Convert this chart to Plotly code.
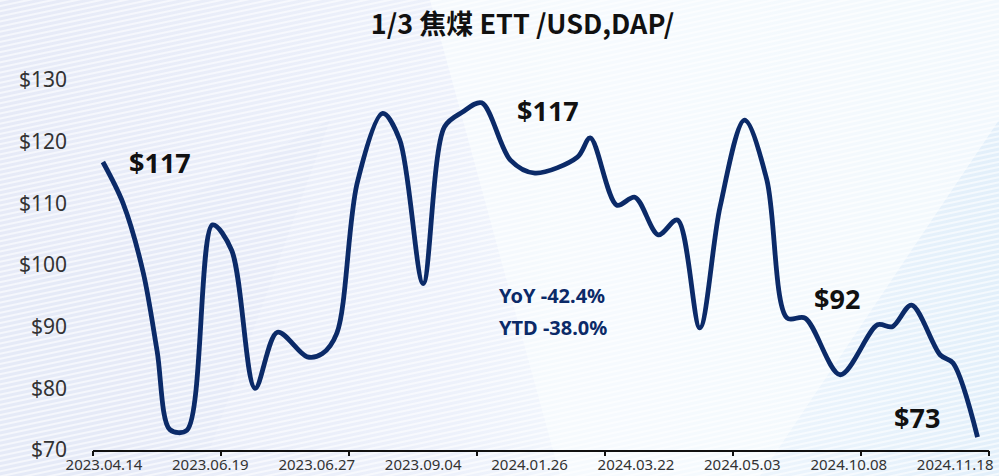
import base64
import plotly.graph_objects as go

# ---- data ----
x_pos = [-0.01, 0.18, 0.37, 0.50, 0.62, 0.78, 1.02, 1.20, 1.42, 1.63, 1.91, 2.05, 2.19, 2.38,
         2.62, 2.78, 3.00, 3.20, 3.37, 3.55, 3.82, 4.05, 4.45, 4.57, 4.82, 4.99, 5.21, 5.39,
         5.60, 5.79, 6.02, 6.23, 6.42, 6.59, 6.92, 7.27, 7.41, 7.59, 7.86, 7.98, 8.21]
price = [116.7, 110.0, 98.7, 86.0, 73.3, 73.2, 106.5, 102.4, 80.0, 89.1, 85.1, 85.6, 89.0, 113.3,
         124.6, 120.3, 97.0, 122.4, 124.8, 126.3, 117.0, 114.9, 117.5, 120.6, 109.7, 111.0, 104.9, 107.3,
         89.8, 109.4, 123.5, 113.8, 91.4, 91.4, 82.2, 90.3, 90.0, 93.5, 85.4, 84.1, 72.1]
date_labels = ["2023.04.14", "2023.06.19", "2023.06.27", "2023.09.04", "2024.01.26",
               "2024.03.22", "2024.05.03", "2024.10.08", "2024.11.18"]
y_ticks = [70, 80, 90, 100, 110, 120, 130]
callouts = ["$117", "$117", "$92", "$73"]
stats = ["YoY -42.4%", "YTD -38.0%"]

TITLE = "1/3 焦煤 ETT /USD,DAP/"
NAVY = "#0b2a68"

# ---- background picture (svg) ----
svg = """<svg xmlns='http://www.w3.org/2000/svg' width='999' height='476' viewBox='0 0 999 476'>
<defs>
<linearGradient id='g' x1='0' y1='0' x2='1' y2='0'>
<stop offset='0' stop-color='#e6eaf7'/>
<stop offset='0.45' stop-color='#edf1fb'/>
<stop offset='0.62' stop-color='#f3f8fd'/>
<stop offset='0.85' stop-color='#e9f3fc'/>
<stop offset='1' stop-color='#e2effa'/>
</linearGradient>
<pattern id='p' width='8' height='5' patternUnits='userSpaceOnUse' patternTransform='rotate(-12)'>
<rect width='8' height='2' fill='#ffffff' opacity='0.6'/>
</pattern>
</defs>
<rect width='999' height='476' fill='url(#g)'/>
<polygon points='430,0 999,0 999,120 760,476 560,476' fill='#f7fbfe' opacity='0.75'/>
<polygon points='0,476 0,300 330,120 200,476' fill='#e4e9f6' opacity='0.6'/>
<rect width='999' height='476' fill='url(#p)'/>
</svg>"""
bg_src = "data:image/svg+xml;base64," + base64.b64encode(svg.encode("utf-8")).decode("ascii")

# geometry
W, H = 999, 476
ML, MR, MT, MB = 93, 10, 80, 26
pw, ph = W - ML - MR, H - MT - MB

x_lo, x_hi = -0.103, 8.318
label_pos = list(range(len(date_labels)))
tick_pos = [x_lo + k * (x_hi - x_lo) / 7 for k in range(8)]

fig = go.Figure()
fig.add_trace(go.Scatter(
    x=x_pos, y=price, mode="lines",
    line=dict(color=NAVY, width=4.8, shape="spline", smoothing=0.9),
    hoverinfo="skip", showlegend=False,
))

ann = []
call_xy = [(0.53, 116.7), (4.17, 125.1), (6.89, 94.6), (7.64, 75.2)]
for txt, (ax_, ay_) in zip(callouts, call_xy):
    ann.append(dict(x=ax_, y=ay_, xref="x", yref="y", text="<b>%s</b>" % txt, showarrow=False,
                    font=dict(family="Noto Sans, Lato, sans-serif", size=27, color="#111111")))
for txt, ay_ in zip(stats, [95.1, 89.8]):
    ann.append(dict(x=3.69, y=ay_, xref="x", yref="y", text="<b>%s</b>" % txt, showarrow=False,
                    xanchor="left",
                    font=dict(family="Noto Sans, Lato, sans-serif", size=20, color=NAVY)))

fig.update_layout(
    width=W, height=H,
    margin=dict(l=ML, r=MR, t=MT, b=MB, autoexpand=False),
    paper_bgcolor="#eef3fb", plot_bgcolor="rgba(0,0,0,0)",
    title=dict(text="<b>%s</b>" % TITLE, x=0.523, xanchor="center", y=1 - 25 / H, yanchor="middle",
               font=dict(family="Noto Sans CJK SC, Noto Sans, sans-serif", size=27, color="#111111")),
    xaxis=dict(range=[x_lo, x_hi], tickvals=label_pos, ticktext=date_labels, ticks="",
               showgrid=False, zeroline=False, showline=True, linecolor="#111111", linewidth=2,
               automargin=False, fixedrange=True,
               tickfont=dict(family="Noto Sans, sans-serif", size=15, color="#333333")),
    xaxis2=dict(range=[x_lo, x_hi], overlaying="x", anchor="y", side="bottom",
                tickvals=tick_pos, showticklabels=False, ticks="outside", ticklen=5,
                tickwidth=2, tickcolor="#111111", showgrid=False, zeroline=False, showline=False,
                automargin=False, fixedrange=True),
    yaxis=dict(range=[70, 130], tickvals=y_ticks, ticktext=["$%d" % v for v in y_ticks],
               showgrid=False, zeroline=False, showline=False, ticks="", ticklabelstandoff=25,
               automargin=False, fixedrange=True,
               tickfont=dict(family="Noto Sans, sans-serif", size=21, color="#333333")),
    annotations=ann,
    images=[dict(source=bg_src, xref="paper", yref="paper",
                 x=-ML / pw, y=1 + MT / ph, sizex=W / pw, sizey=H / ph,
                 xanchor="left", yanchor="top", sizing="stretch", layer="below")],
)
# invisible trace so the tick-mark axis is drawn
fig.add_trace(go.Scatter(x=[x_lo], y=[70], xaxis="x2", mode="markers",
                         marker=dict(opacity=0), hoverinfo="skip", showlegend=False))

fig.write_html("out.html", config={"displayModeBar": False, "staticPlot": True},
               post_script="document.body.style.margin='0';document.body.style.overflow='hidden';")
